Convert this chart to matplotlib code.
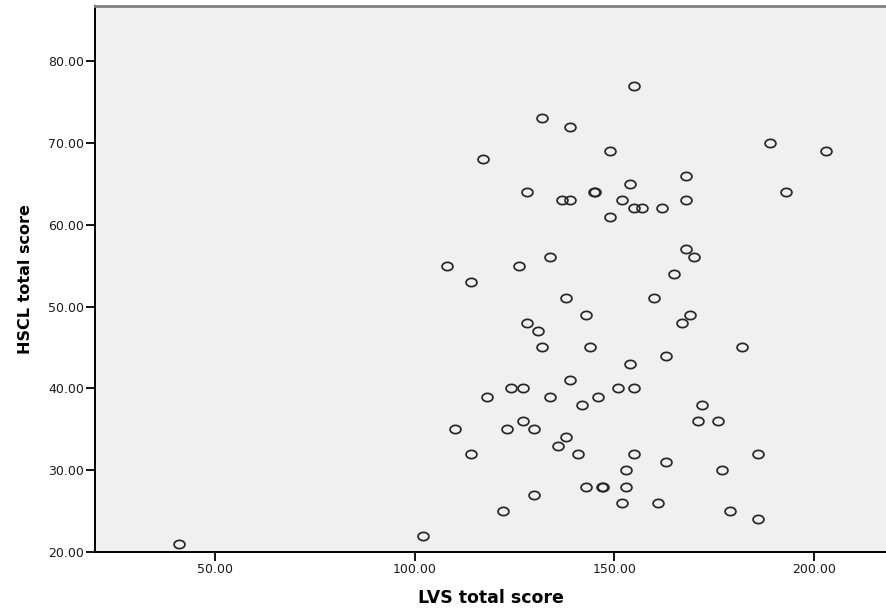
#!/usr/bin/env python

import matplotlib
matplotlib.use('Agg')
import matplotlib.pyplot as plt
import numpy as np
from matplotlib.path import Path

# LVS total score (x) and HSCL total score (y)
lvs_score = [
    155, 132, 139, 149, 117, 189, 203, 168, 154, 128, 144.8, 145.2, 193,
    137, 139, 152, 168, 155, 157, 162, 149, 168, 170, 108, 126, 134, 114,
    165, 138, 160, 143, 169, 128, 167, 131, 132, 144, 182, 163, 154, 139,
    124, 127, 151, 155, 118, 134, 146, 142, 172, 127, 171, 176, 110, 123,
    130, 138, 136, 114, 141, 155, 186, 163, 153, 177, 130, 143, 146.8,
    147.2, 153, 152, 161, 122, 179, 186, 41, 102
]
hscl_score = [
    77, 73, 72, 69, 68, 70, 69, 66, 65, 64, 64, 64, 64,
    63, 63, 63, 63, 62, 62, 62, 61, 57, 56, 55, 55, 56, 53,
    54, 51, 51, 49, 49, 48, 48, 47, 45, 45, 45, 44, 43, 41,
    40, 40, 40, 40, 39, 39, 39, 38, 38, 36, 36, 36, 35, 35,
    35, 34, 33, 32, 32, 32, 32, 31, 30, 30, 27, 28, 28,
    28, 28, 26, 26, 25, 25, 24, 21, 22
]

x_ticks = [50, 100, 150, 200]
y_ticks = [20, 30, 40, 50, 60, 70, 80]


def ellipse_marker(ratio=0.76, n=60):
    t = np.linspace(0, 2 * np.pi, n)
    verts = np.column_stack([np.cos(t), ratio * np.sin(t)])
    return Path(verts, closed=True)


def main():
    fig = plt.figure(figsize=(8.87, 6.14), dpi=100)
    ax = fig.add_axes([0.1075, 0.101, 0.8925, 0.8887])
    ax.set_facecolor('#f0f0f0')

    ax.plot(lvs_score, hscl_score, linestyle='none',
            marker=ellipse_marker(), markersize=7.8,
            markerfacecolor='none', markeredgecolor='#262626',
            markeredgewidth=1.25)

    ax.set_xlim(20, 218.3)
    ax.set_ylim(20, 86.7)
    ax.set_xticks(x_ticks)
    ax.set_yticks(y_ticks)
    ax.set_xticklabels(['{:.2f}'.format(v) for v in x_ticks])
    ax.set_yticklabels(['{:.2f}'.format(v) for v in y_ticks])
    ax.tick_params(direction='out', length=6.5, width=1.3, color='black',
                   labelsize=9, labelcolor='#1a1a1a', pad=1.5)

    ax.spines['left'].set_color('black')
    ax.spines['left'].set_linewidth(1.4)
    ax.spines['bottom'].set_color('black')
    ax.spines['bottom'].set_linewidth(1.4)
    ax.spines['top'].set_color('#808080')
    ax.spines['top'].set_linewidth(2)
    ax.spines['right'].set_visible(False)

    ax.set_xlabel('LVS total score', fontsize=12.5, fontweight='bold',
                  family='DejaVu Sans', labelpad=9)
    ax.set_ylabel('HSCL total score', fontsize=11.5, fontweight='bold',
                  family='DejaVu Sans', labelpad=11)

    fig.savefig('out.png', dpi=100, facecolor='white')


if __name__ == '__main__':
    main()
